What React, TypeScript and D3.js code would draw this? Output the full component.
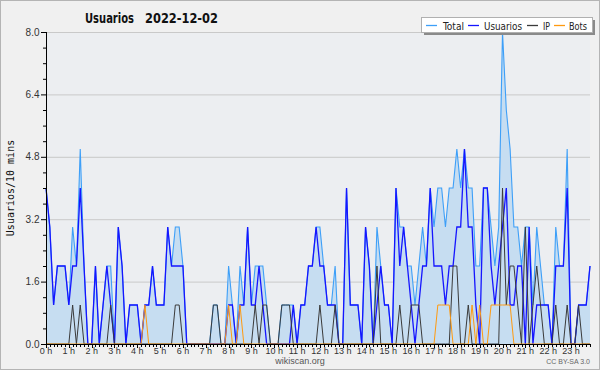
import React from 'react';
import * as d3 from 'd3';

// 10-minute slots, one row per hour (0 h .. 23 h)
const total: number[] = [
  4, 3, 1, 2, 2, 2,
  1, 3, 2, 5, 2, 0,
  0, 2, 0, 1, 2, 2,
  0, 3, 2, 0, 1, 1,
  1, 0, 1, 1, 2, 1,
  1, 1, 3, 2, 3, 3,
  2, 0, 0, 0, 0, 0,
  0, 0, 1, 1, 0, 0,
  2, 1, 0, 2, 1, 3,
  1, 2, 2, 2, 1, 0,
  0, 0, 1, 1, 1, 1,
  0, 1, 1, 2, 2, 3,
  3, 2, 1, 1, 2, 0,
  0, 4, 1, 1, 1, 0,
  3, 2, 0, 3, 2, 1,
  1, 0, 4, 3, 3, 2,
  2, 1, 2, 3, 2, 4,
  3, 4, 4, 3, 4, 4,
  5, 4, 5, 4, 4, 2,
  2, 4, 4, 3, 2, 3,
  8, 6, 5, 3, 3, 2,
  3, 3, 1, 3, 2, 1,
  1, 0, 3, 2, 2, 5,
  0, 0, 1, 1, 1, 2,
];

const usuarios: number[] = [
  4, 3, 1, 2, 2, 2,
  1, 2, 2, 4, 2, 0,
  0, 2, 0, 1, 2, 1,
  0, 3, 2, 0, 1, 1,
  1, 0, 1, 1, 2, 1,
  1, 1, 3, 2, 2, 2,
  2, 0, 0, 0, 0, 0,
  0, 0, 0, 0, 0, 0,
  1, 1, 0, 1, 1, 3,
  1, 1, 2, 1, 0, 0,
  0, 0, 0, 0, 0, 1,
  0, 1, 1, 2, 2, 3,
  2, 2, 1, 1, 1, 0,
  0, 4, 1, 1, 1, 0,
  3, 2, 0, 1, 2, 1,
  1, 0, 4, 2, 3, 2,
  1, 0, 1, 2, 2, 4,
  2, 2, 2, 1, 2, 2,
  3, 3, 5, 3, 3, 1,
  0, 4, 4, 2, 1, 2,
  3, 4, 1, 1, 2, 2,
  0, 3, 0, 1, 1, 1,
  1, 0, 2, 2, 2, 4,
  0, 0, 1, 1, 1, 2,
];

const ip: number[] = [
  0, 0, 0, 0, 0, 0,
  0, 1, 0, 1, 0, 0,
  0, 0, 0, 0, 0, 1,
  0, 0, 0, 0, 0, 0,
  0, 0, 0, 0, 0, 0,
  0, 0, 0, 0, 1, 1,
  0, 0, 0, 0, 0, 0,
  0, 0, 1, 1, 0, 0,
  0, 0, 0, 0, 0, 0,
  0, 1, 0, 1, 1, 0,
  0, 0, 1, 1, 1, 0,
  0, 0, 0, 0, 0, 0,
  1, 0, 0, 0, 1, 0,
  0, 0, 0, 0, 0, 0,
  0, 0, 0, 2, 0, 0,
  0, 0, 0, 1, 0, 0,
  1, 1, 1, 0, 0, 0,
  0, 0, 0, 0, 0, 2,
  2, 0, 0, 1, 0, 0,
  0, 0, 0, 0, 0, 0,
  4, 1, 2, 2, 1, 0,
  3, 0, 1, 2, 1, 0,
  0, 0, 1, 0, 0, 1,
  0, 0, 1, 0, 0, 0,
];

const bots: number[] = [
  0, 0, 0, 0, 0, 0,
  0, 0, 0, 0, 0, 0,
  0, 0, 0, 0, 0, 0,
  0, 0, 0, 0, 0, 0,
  0, 0, 1, 0, 0, 0,
  0, 0, 0, 0, 0, 0,
  0, 0, 0, 0, 0, 0,
  0, 0, 0, 0, 0, 0,
  1, 0, 0, 1, 0, 0,
  0, 0, 0, 0, 0, 0,
  0, 0, 0, 0, 0, 0,
  0, 0, 0, 0, 0, 0,
  0, 0, 0, 0, 0, 0,
  0, 0, 0, 0, 0, 0,
  0, 0, 0, 0, 0, 0,
  0, 0, 0, 0, 0, 0,
  0, 0, 0, 0, 0, 0,
  0, 1, 1, 1, 1, 0,
  0, 0, 0, 0, 1, 0,
  1, 0, 0, 1, 1, 1,
  1, 1, 1, 0, 0, 0,
  0, 0, 0, 0, 0, 0,
  0, 0, 0, 0, 0, 0,
  0, 0, 0, 0, 0, 0,
];

const hourLabels: string[] = [
  '0 h', '1 h', '2 h', '3 h', '4 h', '5 h', '6 h', '7 h', '8 h', '9 h', '10 h', '11 h',
  '12 h', '13 h', '14 h', '15 h', '16 h', '17 h', '18 h', '19 h', '20 h', '21 h', '22 h', '23 h',
];
const yTickValues: number[] = [0, 1.6, 3.2, 4.8, 6.4, 8.0];
const yMinorValues: number[] = [0.4, 0.8, 1.2, 2.0, 2.4, 2.8, 3.6, 4.0, 4.4, 5.2, 5.6, 6.0, 6.8, 7.2, 7.6];

const title = 'Usuarios';
const dateLabel = '2022-12-02';
const yAxisLabel = 'Usuarios/10 mins';

const legendItems = [
  { name: 'Total', color: '#3d9ff8', x1: 426, tx: 443, tw: 21 },
  { name: 'Usuarios', color: '#1515ff', x1: 468, tx: 484, tw: 38 },
  { name: 'IP', color: '#3a3a3a', x1: 527, tx: 543, tw: 7 },
  { name: 'Bots', color: '#ff9a10', x1: 554, tx: 569, tw: 18 },
];

const NARROW = "'Liberation Sans Narrow', 'DejaVu Sans Condensed', 'Liberation Sans', sans-serif";

export default function App() {
  const W = 600;
  const H = 370;
  const left = 46;
  const right = 590;
  const top = 32;
  const bottom = 344;

  const x = d3.scaleLinear().domain([0, total.length - 1]).range([left, right]);
  const y = d3.scaleLinear().domain([0, 8]).range([bottom, top]);

  const lineGen = d3
    .line<number>()
    .x((_, i) => x(i))
    .y((d) => y(d));
  const areaGen = d3
    .area<number>()
    .x((_, i) => x(i))
    .y0(y(0))
    .y1((d) => y(d));

  return (
    <svg
      width={W}
      height={H}
      viewBox={`0 0 ${W} ${H}`}
      style={{ position: 'absolute', left: 0, top: 0, display: 'block' }}
    >
      <rect x={0.5} y={0.5} width={W - 1} height={H - 1} fill="#f0f0f0" stroke="#b4b4b4" />
      <rect x={left} y={top} width={right - left} height={bottom - top} fill="#eceef1" />

      {/* grid */}
      {yTickValues.slice(1).map((v) => (
        <line key={'g' + v} x1={left} x2={right} y1={y(v) + 0.5} y2={y(v) + 0.5} stroke="#c9c9c9" strokeWidth={1} />
      ))}

      {/* area + series */}
      <path d={areaGen(total) || ''} fill="#c6ddf1" />
      <path d={lineGen(total) || ''} fill="none" stroke="#3d9ff8" strokeWidth={1.1} strokeLinejoin="miter" />
      <path d={lineGen(usuarios) || ''} fill="none" stroke="#1515ff" strokeWidth={1.3} />
      <path d={lineGen(ip) || ''} fill="none" stroke="#3a3a3a" strokeWidth={1} />
      <path d={lineGen(bots) || ''} fill="none" stroke="#ff9a10" strokeWidth={1} />

      {/* y axis */}
      <line x1={left + 0.5} x2={left + 0.5} y1={top} y2={bottom + 1} stroke="#000" />
      {yTickValues.map((v) => (
        <g key={'yt' + v}>
          <line x1={41} x2={left} y1={y(v) + 0.5} y2={y(v) + 0.5} stroke="#000" />
          <text
            x={39.5}
            y={y(v) + 3.5}
            textAnchor="end"
            fontSize={10}
            fontFamily="'Liberation Sans', Arial, sans-serif"
            fill="#333"
          >
            {v.toFixed(1)}
          </text>
        </g>
      ))}
      {yMinorValues.map((v) => (
        <line key={'ym' + v} x1={43} x2={left} y1={y(v) + 0.5} y2={y(v) + 0.5} stroke="#000" />
      ))}
      <text
        transform={`translate(14,${(top + bottom) / 2}) rotate(-90)`}
        textAnchor="middle"
        fontSize={10}
        fontFamily="'DejaVu Sans Mono', monospace"
        fill="#111"
      >
        {yAxisLabel}
      </text>

      {/* x axis */}
      <line x1={left} x2={right + 1} y1={bottom + 0.5} y2={bottom + 0.5} stroke="#000" />
      {total.map((_, i) => (
        <line
          key={'xt' + i}
          x1={Math.round(x(i)) + 0.5}
          x2={Math.round(x(i)) + 0.5}
          y1={bottom}
          y2={bottom + (i % 6 === 0 ? 4 : 3)}
          stroke="#000"
        />
      ))}
      {hourLabels.map((h, k) => (
        <text
          key={'xl' + k}
          x={x(k * 6)}
          y={354}
          textAnchor="middle"
          fontSize={9}
          fontFamily="'Liberation Sans', Arial, sans-serif"
          fill="#333"
        >
          {h}
        </text>
      ))}

      {/* title */}
      <text x={85} y={23} fontSize={14} fontWeight="bold" fontFamily={NARROW} fill="#111" textLength={49} lengthAdjust="spacingAndGlyphs">
        {title}
      </text>
      <text x={145} y={23} fontSize={14} fontWeight="bold" fontFamily={NARROW} fill="#111" textLength={73} lengthAdjust="spacingAndGlyphs">
        {dateLabel}
      </text>

      {/* legend */}
      <rect x={424} y={20} width={171} height={15} fill="#8a8a8a" />
      <rect x={421.5} y={17.5} width={171} height={15} fill="#ffffff" stroke="#b0b0b0" />
      {legendItems.map((it) => (
        <g key={it.name}>
          <line x1={it.x1} x2={it.x1 + 11} y1={25.5} y2={25.5} stroke={it.color} strokeWidth={1.3} />
          <text
            x={it.tx}
            y={29.5}
            fontSize={11}
            fontFamily={NARROW}
            fill="#222"
            textLength={it.tw}
            lengthAdjust="spacingAndGlyphs"
          >
            {it.name}
          </text>
        </g>
      ))}

      {/* footer */}
      <text x={300} y={364} textAnchor="middle" fontSize={9} fontFamily="'Liberation Sans', Arial, sans-serif" fill="#555">
        wikiscan.org
      </text>
      <text x={590} y={364} textAnchor="end" fontSize={7} fontFamily="'Liberation Sans', Arial, sans-serif" fill="#666">
        CC BY-SA 3.0
      </text>
    </svg>
  );
}
